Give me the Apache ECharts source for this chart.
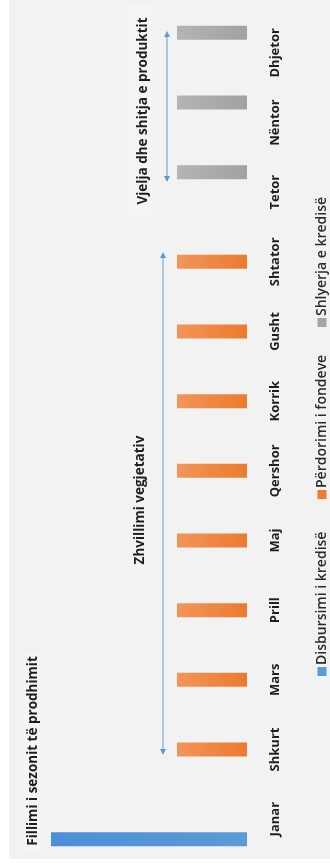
<!DOCTYPE html>
<html>
<head>
<meta charset="utf-8">
<script src="https://cdn.jsdelivr.net/npm/echarts@6/dist/echarts.min.js"></script>
<style>
html,body{margin:0;padding:0;background:#fff;}
#c{width:330px;height:866px;}
</style>
</head>
<body>
<div id="c"></div>
<script>
const months = ['Janar','Shkurt','Mars','Prill','Maj','Qershor','Korrik','Gusht','Shtator','Tetor','Nëntor','Dhjetor'];
const seriesNames = ['Disbursimi i kredisë','Përdorimi i fondeve','Shlyerja e kredisë'];
const disbursimi = [2.8, null, null, null, null, null, null, null, null, null, null, null];
const perdorimi  = [null, 1, 1, 1, 1, 1, 1, 1, 1, null, null, null];
const shlyerja   = [null, null, null, null, null, null, null, null, null, 1, 1, 1];
const annotations = ['Fillimi i sezonit të prodhimit','Zhvillimi vegjetativ','Vjelja dhe shitja e produktit'];

const colors = ['#5b9bd5','#ed7d31','#a5a5a5'];
const grads = [
  ['#4d8edb','#5b9bd5'],
  ['#f3955a','#ec7a2e'],
  ['#b4b4b4','#a2a2a2']
];
const FONT = '"Open Sans", sans-serif';

function grad(i){
  return new echarts.graphic.LinearGradient(0,0,1,0,[{offset:0,color:grads[i][0]},{offset:1,color:grads[i][1]}]);
}
const seriesData = [disbursimi, perdorimi, shlyerja];

const chart = echarts.init(document.getElementById('c'));

function rotText(text, x, y, opts){
  opts = opts || {};
  return {
    type:'text', x:x, y:y, rotation:Math.PI/2, z:10,
    style:{
      text:text, fill:opts.fill||'#1e1e1e',
      font:(opts.weight||'bold')+' '+(opts.size||13.5)+'px '+FONT,
      align:opts.align||'center', verticalAlign:'middle',
      textAlign:opts.align||'center', textVerticalAlign:'middle'
    }
  };
}
function arrow(x, y1, y2){
  const c = '#5b9bd5';
  return [
    {type:'line', z:10, shape:{x1:x,y1:y1+3,x2:x,y2:y2-3}, style:{stroke:c,lineWidth:1}},
    {type:'polygon', z:10, shape:{points:[[x,y1],[x-3,y1+6],[x+3,y1+6]]}, style:{fill:c}},
    {type:'polygon', z:10, shape:{points:[[x,y2],[x-3,y2-6],[x+3,y2-6]]}, style:{fill:c}}
  ];
}

// legend drawn as rotated group (text reads bottom-to-top)
const legendOffsets = [0, 177, 349];
const legendChildren = [];
seriesNames.forEach((n,i)=>{
  legendChildren.push({type:'rect', shape:{x:legendOffsets[i], y:-4.5, width:9, height:9}, style:{fill:colors[i]}});
  legendChildren.push({type:'text', x:legendOffsets[i]+11, y:0, style:{
    text:n, fill:'#2a2a2a', font:'600 14px '+FONT,
    align:'left', verticalAlign:'middle', textAlign:'left', textVerticalAlign:'middle'}});
});

const graphics = [
  {type:'rect', z:-10, shape:{x:9,y:0,width:321,height:859}, style:{fill:'#f2f2f2'}},
  {type:'rect', z:-9, shape:{x:22,y:652,width:24,height:200}, style:{fill:'#f4f4f4'}},
  {type:'rect', z:-9, shape:{x:126,y:5,width:33,height:212}, style:{fill:'#f4f4f4'}},
  rotText(annotations[0], 33, 751),
  rotText(annotations[1], 140, 500),
  rotText(annotations[2], 143, 111),
  {type:'group', x:322, y:676, rotation:Math.PI/2, z:10, children:legendChildren}
].concat(arrow(163, 252, 755)).concat(arrow(167, 31, 182));

// series listed in reverse so the first series sits at the bottom of each category band
const order = [2, 1, 0];
chart.setOption({
  backgroundColor:'#ffffff',
  animation:false,
  grid:{left:2, right:83, top:18, bottom:12, containLabel:false},
  xAxis:{type:'value', inverse:true, min:0, max:3.5, show:false},
  yAxis:{
    type:'category', position:'right', data:months,
    axisLine:{show:false}, axisTick:{show:false}, splitLine:{show:false},
    axisLabel:{rotate:90, margin:22, fontSize:13, fontWeight:'bold', color:'#1e1e1e', fontFamily:FONT, interval:0}
  },
  series: order.map(i=>({
    type:'bar', name:seriesNames[i], data:seriesData[i],
    barWidth:14, barGap:'43%',
    itemStyle:{color:grad(i)}
  })),
  graphic:graphics
});
</script>
</body>
</html>
